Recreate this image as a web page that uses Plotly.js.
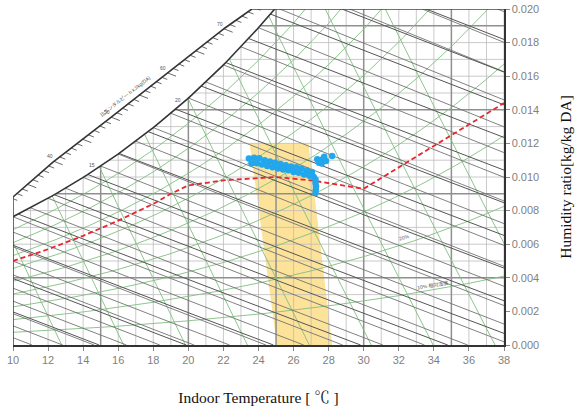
<!DOCTYPE html>
<html><head><meta charset="utf-8">
<script src="https://cdn.plot.ly/plotly-3.0.1.min.js"></script>
<style>html,body{margin:0;padding:0;background:#fff}</style>
</head><body><div id="chart" style="width:581px;height:412px"></div>
<script>
// ---------------- data ----------------
const xTickVals = [10,12,14,16,18,20,22,24,26,28,30,32,34,36,38];
const yTickVals = [0,0.002,0.004,0.006,0.008,0.010,0.012,0.014,0.016,0.018,0.020];

// saturation vapour pressure table (kPa) used to draw the chart's saturation / RH curves
const satTemps = [0,1,2,3,4,5,6,7,8,9,10,11,12,13,14,15,16,17,18,19,20,21,22,23,24,25,26,27,28,29,30,31,32,33,34,35,36,37,38,39,40];
const satPressure = [0.6113,0.6571,0.7060,0.7581,0.8135,0.8726,0.9354,1.0021,1.0730,1.1482,1.2282,1.3129,1.4028,1.4981,1.5990,1.7058,1.8188,1.9384,2.0647,2.1983,2.3393,2.4882,2.6453,2.8111,2.9858,3.1699,3.3639,3.5681,3.7831,4.0092,4.2470,4.4969,4.7596,5.0354,5.3251,5.6290,5.9479,6.2823,6.6328,7.0002,7.3849];

// outer (enthalpy scale) border curve
const outerT = [10, 12.28, 15.53, 18.78, 22.09, 23.62];
const outerW = [0.00881, 0.01089, 0.01351, 0.01619, 0.01887, 0.0200];

// chart line families
const gridTemps = [10,11,12,13,14,15,16,17,18,19,20,21,22,23,24,25,26,27,28,29,30,31,32,33,34,35,36,37,38];
const boldTemps = [15,20,25,30,35];
const gridHum = [0.001,0.002,0.003,0.004,0.005,0.006,0.007,0.008,0.009,0.010,0.011,0.012,0.013,0.014,0.015,0.016,0.017,0.018,0.019];
const boldHum = [0.004,0.009,0.014,0.019];
const enthalpyLevels = [10,15,20,25,30,35,40,45,50,55,60,65,70,75,80,85,90];
const enthalpyTickLevels = [30,31,32,33,34,35,36,37,38,39,40,41,42,43,44,45,46,47,48,49,50,51,52,53,54,55,56,57,58,59,60,61,62,63,64,65,66,67,68,69,70,71,72,73,74,75];
const wetBulbLevels = [1,2,3,4,5,6,7,8,9,10,11,12,13,14,15,16,17,18,19,20,21,22,23,24,25,26,27,28,29,30];
const rhLevels = [0.1,0.2,0.3,0.4,0.5,0.6,0.7,0.8,0.9];
const volumeLevels = [0.80,0.81,0.82,0.83,0.84,0.85,0.86,0.87,0.88,0.89];

// comfort zone (yellow band)
const zoneT = [23.5, 25.05, 28.2, 26.85];
const zoneW = [0.0120, 0.0, 0.0, 0.0120];

// red dashed line
const redT = [10, 12, 14, 16, 18, 19, 20, 22, 25, 27, 30, 38];
const redW = [0.0050, 0.0057, 0.0065, 0.0074, 0.0084, 0.0090, 0.0095, 0.0098, 0.0100, 0.0098, 0.0093, 0.0144];

// measured indoor points (blue)
const blueT = [23.45,23.75,24.05,24.35,24.65,24.95,25.25,25.55,25.85,26.15,26.45,26.75,27.05,
               23.6,23.9,24.2,24.5,24.8,25.1,25.4,25.7,26.0,26.3,26.6,26.9,27.15,27.25,
               27.25,27.28,27.27,27.25,
               27.35,27.55,27.7,27.85,27.6,27.45,28.2,27.75];
const blueW = [0.01110,0.01115,0.01112,0.01100,0.01092,0.01085,0.01078,0.01070,0.01062,0.01058,0.01050,0.01040,0.01030,
               0.01080,0.01082,0.01075,0.01065,0.01058,0.01050,0.01045,0.01040,0.01030,0.01025,0.01015,0.01008,0.01000,0.00985,
               0.00965,0.00945,0.00925,0.00905,
               0.01105,0.01100,0.01110,0.01095,0.01080,0.01085,0.01125,0.01120];

// ---------------- helpers ----------------
const P = 101.325;
function interp(xs, ys, x){
  if (x <= xs[0]) return ys[0] + (ys[1]-ys[0])*(x-xs[0])/(xs[1]-xs[0]);
  const n = xs.length;
  if (x >= xs[n-1]) return ys[n-2] + (ys[n-1]-ys[n-2])*(x-xs[n-2])/(xs[n-1]-xs[n-2]);
  for (let i=0;i<n-1;i++) if (x>=xs[i] && x<=xs[i+1]) return ys[i]+(ys[i+1]-ys[i])*(x-xs[i])/(xs[i+1]-xs[i]);
}
const psat = t => interp(satTemps, satPressure, t);
const wFromPv = pv => 0.622*pv/(P-pv);
const wsat = t => wFromPv(psat(t));
function bisect(f, a, b){ let fa=f(a); for(let i=0;i<60;i++){const m=(a+b)/2, fm=f(m); if((fm>0)===(fa>0)){a=m;fa=fm;} else b=m;} return (a+b)/2; }
const tsat = w => bisect(t => wsat(t)-w, -5, 45);
const wOuter = t => (t > outerT[outerT.length-1]) ? 1 : interp(outerT, outerW, t);
const wEnth = (h,t) => (h - 1.006*t)/(2501 + 1.86*t);
function wWet(twb, t){ const ws = wsat(twb); return ((2501-2.326*twb)*ws - 1.006*(t-twb))/(2501 + 1.86*t - 4.186*twb); }

function family(){ return {x:[], y:[]}; }
function addSeg(f, xs, ys){ f.x.push(...xs, null); f.y.push(...ys, null); }
function sample(fn, t0, t1, n){ const xs=[], ys=[]; for(let i=0;i<=n;i++){const t=t0+(t1-t0)*i/n; xs.push(t); ys.push(fn(t));} return [xs, ys]; }

// grid
const gThin = family(), gBold = family();
gridTemps.forEach(t => addSeg(boldTemps.includes(t)?gBold:gThin, [t,t], [0, Math.min(wsat(t), 0.0201)]));
gridHum.forEach(w => { const ts = Math.max(10, tsat(w)); addSeg(boldHum.some(b=>Math.abs(b-w)<1e-9)?gBold:gThin, [ts,38], [w,w]); });

// enthalpy lines (from the saturation curve), ticks on the outer scale
const enth = family(), enthTicks = family();
const hOuter = h => bisect(t => wEnth(h,t) - wOuter(t), 0, 40);
const hSat = h => bisect(t => wEnth(h,t) - wsat(t), -5, 45);
enthalpyLevels.forEach(h => {
  const t0 = hSat(h), t1 = Math.min(h/1.006, 38.5);
  if (t1 > t0) { const [xs,ys] = sample(t => wEnth(h,t), t0, t1, 12); addSeg(enth, xs, ys); }
});
enthalpyTickLevels.forEach(h => {
  const t0 = hOuter(h), len = (h % 5 === 0) ? 0.5 : 0.32;
  addSeg(enthTicks, [t0, t0+len], [wEnth(h,t0), wEnth(h,t0+len)]);
});
// wet-bulb lines
const wet = family();
wetBulbLevels.forEach(tw => {
  const tEnd = Math.min(bisect(t => wWet(tw,t), tw, 80), 38.5);
  const [xs,ys] = sample(t => wWet(tw,t), tw, tEnd, 12); addSeg(wet, xs, ys);
});
// relative humidity curves
const rh = family();
rhLevels.forEach(phi => {
  const xs=[], ys=[]; for(let t=10;t<=38.001;t+=0.25){ const pv=phi*psat(t); xs.push(t); ys.push(wFromPv(pv)); }
  addSeg(rh, xs, ys);
});
// specific volume lines
const vol = family();
const tVol = (v,w) => v*P/(0.287042*(1+1.6078*w)) - 273.15;
volumeLevels.forEach(v => {
  const xs=[], ys=[];
  for (let w=0; w<=0.0205; w+=0.0005){ const t = tVol(v,w); if (w > wsat(t)) { const wc = bisect(ww => wsat(tVol(v,ww)) - ww, 0, 0.05); xs.push(tVol(v,wc)); ys.push(wc); break; } xs.push(t); ys.push(w); }
  addSeg(vol, xs, ys);
});
// frame curves
const [satX, satY] = sample(wsat, 10, tsat(0.0200), 60);

const line = (f, color, width, name) => ({type:'scatter', mode:'lines', x:f.x, y:f.y, line:{color, width}, hoverinfo:'skip', showlegend:false, name, connectgaps:false});

const traces = [
  {type:'scatter', mode:'lines', x:[...zoneT, zoneT[0]], y:[...zoneW, zoneW[0]], fill:'toself', fillcolor:'#fde29a', line:{width:0, color:'#fde29a'}, showlegend:false, hoverinfo:'skip'},
  line(gThin, '#bdbdbd', 0.8, 'grid'),
  line(gBold, '#8f8f8f', 1.5, 'grid bold'),
  line(rh, '#80c080', 0.9, 'RH'),
  line(vol, '#80c080', 0.9, 'volume'),
  line(wet, '#737373', 0.9, 'wet bulb'),
  line(enth, '#555', 1.0, 'enthalpy'),
  line(enthTicks, '#444', 0.8, 'enthalpy ticks'),
  {type:'scatter', mode:'lines', x:satX, y:satY, line:{color:'#333', width:1.6}, showlegend:false, hoverinfo:'skip'},
  {type:'scatter', mode:'lines', x:outerT, y:outerW, line:{color:'#333', width:1.6}, showlegend:false, hoverinfo:'skip'},
  {type:'scatter', mode:'lines', x:[10,10], y:[0, outerW[0]], line:{color:'#444', width:1.5}, showlegend:false, hoverinfo:'skip'},
  {type:'scatter', mode:'lines', x:[outerT[outerT.length-1], 38], y:[0.0200, 0.0200], line:{color:'#444', width:1.6}, showlegend:false, hoverinfo:'skip', cliponaxis:false},
  {type:'scatter', mode:'lines', x:redT, y:redW, line:{color:'#e8262e', width:1.8, dash:'5px,3px'}, showlegend:false, name:'red'},
  {type:'scatter', mode:'markers', x:blueT, y:blueW, marker:{color:'#22a6ec', size:6.5}, showlegend:false, name:'measured'}
];

const small = {family:'Liberation Sans, Noto Sans CJK JP', size:5, color:'#555'};
const hLab = [40,50,60,70];
const annotations = hLab.map(h => { const t=hOuter(h); return {x:t, y:wEnth(h,t), text:String(h), showarrow:false, font:small, xshift:-4, yshift:5}; });
annotations.push({x:16.4, y:0.0148, text:'比エンタルピー h kJ/kg(DA)', showarrow:false, font:small, textangle:-38});
annotations.push({x:14.7, y:wsat(14.7), text:'15', showarrow:false, font:small, xshift:-3, yshift:4});
annotations.push({x:19.6, y:wsat(19.6), text:'20', showarrow:false, font:small, xshift:-3, yshift:4});
annotations.push({x:32.35, y:0.0064, text:'20%', showarrow:false, font:small, textangle:-14});
annotations.push({x:33.95, y:0.00355, text:'10% 相対湿度', showarrow:false, font:small, textangle:-9});

const titleFont = {family:'Liberation Serif, Noto Serif CJK JP, Noto Sans CJK JP', size:15.5, color:'#111'};
const layout = {
  width:581, height:412,
  margin:{l:13, r:77, t:9, b:67},
  paper_bgcolor:'#fff', plot_bgcolor:'#fff',
  showlegend:false,
  xaxis:{range:[10,38], tickvals:xTickVals, ticks:'outside', ticklen:4, tickcolor:'#888',
         showgrid:false, zeroline:false, showline:true, linecolor:'#333', linewidth:1.5,
         tickfont:{family:'Liberation Sans', size:11, color:'#7f7f7f'},
         title:{text:'Indoor Temperature [ ℃ ]', font:titleFont, standoff:27},
         automargin:false, fixedrange:true},
  yaxis:{range:[0,0.020], side:'right', tickvals:yTickVals, tickformat:'.3f', ticks:'outside', ticklen:4, tickcolor:'#888',
         showgrid:false, zeroline:false, showline:true, linecolor:'#333', linewidth:1.5,
         tickfont:{family:'Liberation Sans', size:11, color:'#7f7f7f'},
         title:{text:'Humidity ratio[kg/kg DA]', font:titleFont, standoff:22},
         automargin:false, fixedrange:true},
  annotations
};
Plotly.newPlot('chart', traces, layout, {staticPlot:true, displayModeBar:false});
</script></body></html>
